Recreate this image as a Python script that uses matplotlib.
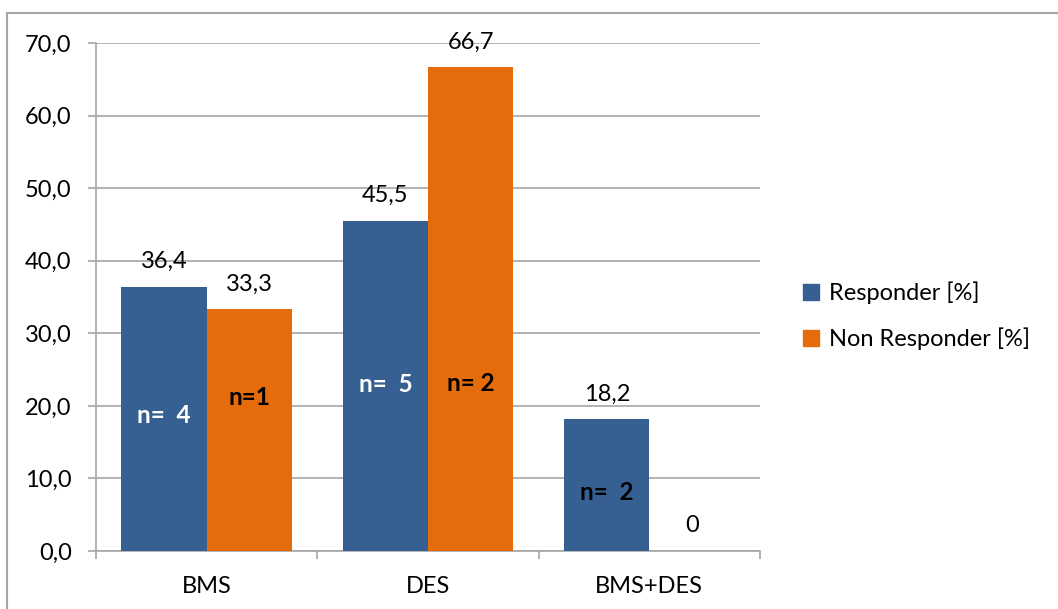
import numpy as np
import matplotlib.pyplot as plt
from matplotlib.lines import Line2D
from matplotlib.patches import Patch

plt.rcParams['font.family'] = ['Lato', 'DejaVu Sans']

categories = ['BMS', 'DES', 'BMS+DES']
responder = [36.4, 45.5, 18.2]
non_responder = [33.3, 66.7, 0]
resp_n = ['n=  4', 'n=  5', 'n=  2']
resp_n_y = [18.7, 22.9, 8.1]
resp_n_color = ['white', 'white', 'black']
non_n = ['n=1', 'n= 2', '']
non_n_y = [21.2, 23.1, 0]
yticks = [0, 10, 20, 30, 40, 50, 60, 70]

BLUE = '#376092'
ORANGE = '#E46C0A'
GRID = '#A6A6A6'

W, H = 1058, 609
fig = plt.figure(figsize=(W / 100, H / 100), dpi=100)
ax = fig.add_axes([96 / W, (H - 551) / H, 664 / W, 508 / H])

x = np.arange(len(categories))
bw = 0.385
ax.bar(x - bw / 2, responder, bw, color=BLUE, zorder=3)
ax.bar(x + bw / 2, non_responder, bw, color=ORANGE, zorder=3)

fs = 17
def fmt(v):
    return '0' if v == 0 else f'{v:.1f}'.replace('.', ',')

for i in range(len(categories)):
    for xi, v in ((x[i] - bw / 2, responder[i]), (x[i] + bw / 2, non_responder[i])):
        ax.annotate(fmt(v), (xi, v), xytext=(0, 18), textcoords='offset points',
                    ha='center', va='center', fontsize=fs, color='black')
    ax.text(x[i] - bw / 2, resp_n_y[i], resp_n[i], ha='center', va='center',
            fontsize=fs + 0.5, fontweight='bold', color=resp_n_color[i], zorder=4)
    if non_n[i]:
        ax.text(x[i] + bw / 2, non_n_y[i], non_n[i], ha='center', va='center',
                fontsize=fs + 0.5, fontweight='bold', color='black', zorder=4)

ax.set_xlim(-0.5, 2.5)
ax.set_ylim(0, 70)
ax.set_yticks(yticks)
ax.set_yticklabels([f'{t},0' for t in yticks], fontsize=fs)
ax.yaxis.grid(True, color=GRID, linewidth=1.2, zorder=0)

ax.set_xticks([-0.5, 0.5, 1.5, 2.5])
ax.set_xticklabels([])
ax.set_xticks(x, minor=True)
ax.set_xticklabels(categories, minor=True, fontsize=fs)
ax.tick_params(axis='x', which='minor', length=0, pad=18)
ax.tick_params(axis='x', which='major', length=6, width=1.2, color=GRID)
ax.tick_params(axis='y', length=6, width=1.2, color=GRID, pad=11.5)

for side in ('top', 'right'):
    ax.spines[side].set_visible(False)
for side in ('left', 'bottom'):
    ax.spines[side].set_color(GRID)
    ax.spines[side].set_linewidth(1.2)

handles = [Patch(color=BLUE, label='Responder [%]'),
           Patch(color=ORANGE, label='Non Responder [%]')]
fig.legend(handles=handles, loc='center left', bbox_to_anchor=(782 / W, 1 - 316 / H),
           frameon=False, fontsize=fs, handlelength=0.65, handleheight=0.65,
           handletextpad=0.45, labelspacing=1.0)

# chart area frame (top and left edges only)
fig.add_artist(Line2D([7 / W, 1], [1 - 13 / H, 1 - 13 / H], color=GRID, linewidth=1.5))
fig.add_artist(Line2D([7 / W, 7 / W], [0, 1 - 13 / H], color=GRID, linewidth=1.5))

fig.savefig('out.png', dpi=100)
